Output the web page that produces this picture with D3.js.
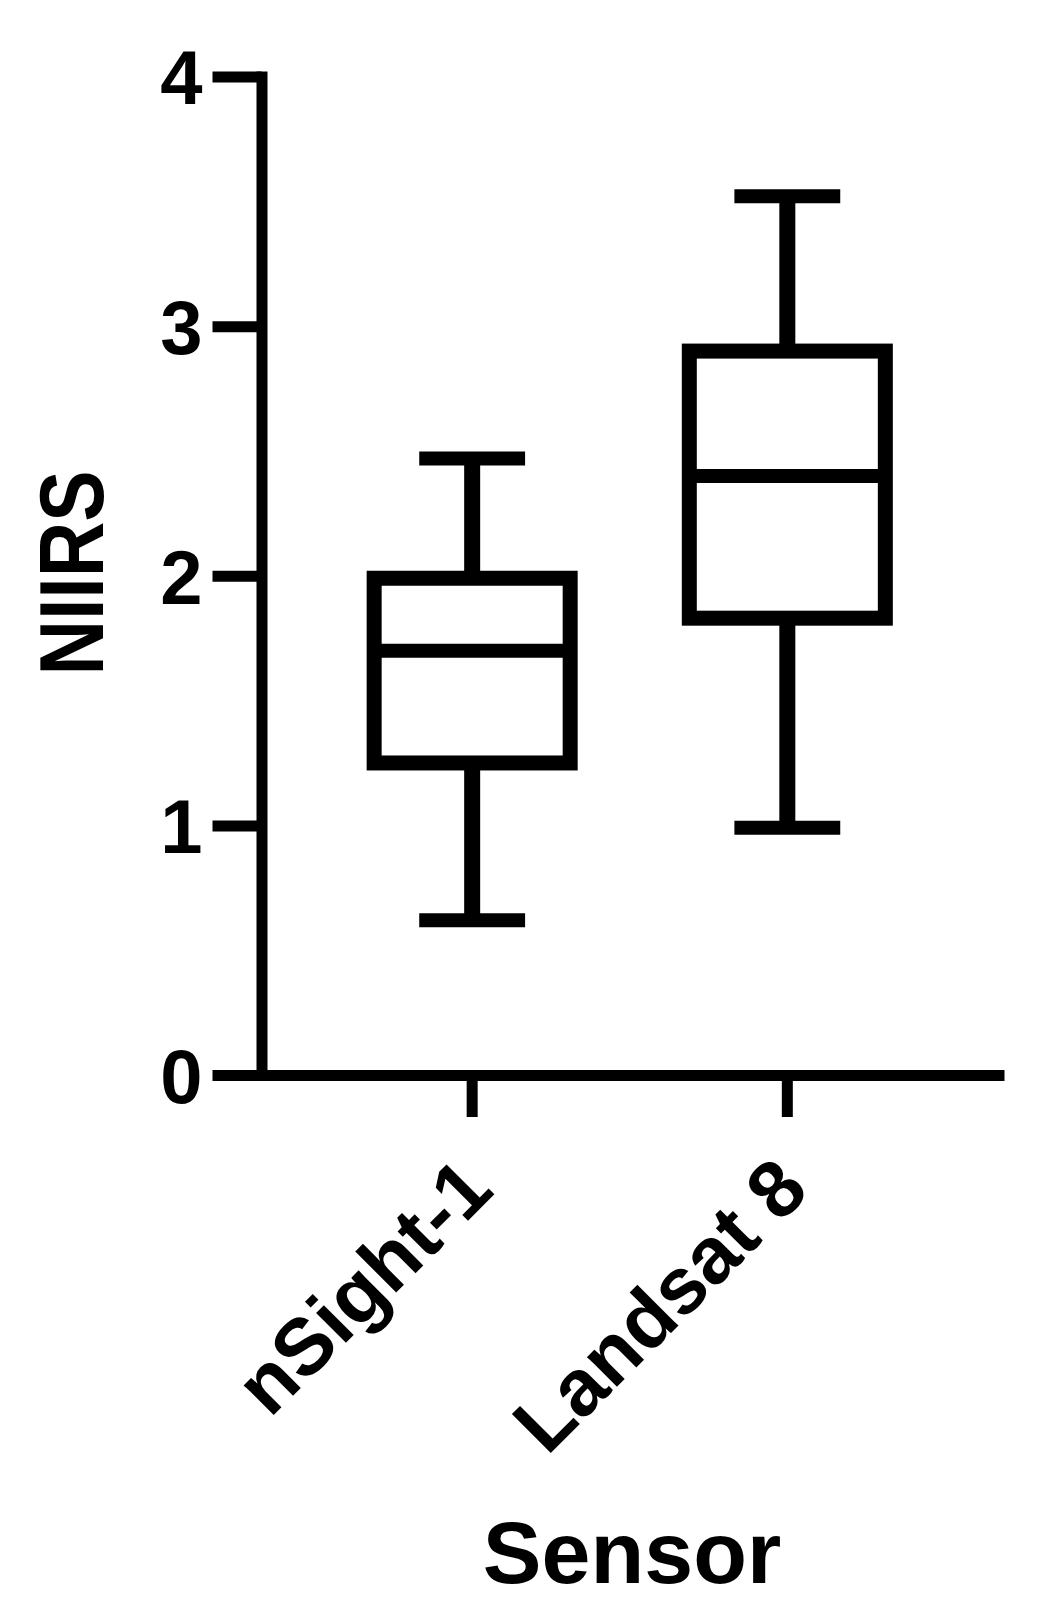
<!DOCTYPE html>
<html>
<head>
<meta charset="utf-8">
<script src="https://cdn.jsdelivr.net/npm/d3@7"></script>
<style>
  body { margin: 0; background: #fff; }
  svg { display: block; }
  text { font-family: "Liberation Sans", Arial, sans-serif; font-weight: bold; fill: #000; }
</style>
</head>
<body>
<svg width="1037" height="1615"></svg>
<script>
var categories = ["nSight-1", "Landsat 8"];
var whiskerLow = [0.62, 0.99];
var q1 = [1.25, 1.83];
var median = [1.7, 2.4];
var q3 = [1.99, 2.9];
var whiskerHigh = [2.47, 3.52];
var yTicks = [0, 1, 2, 3, 4];

var svg = d3.select("svg"),
  width = +svg.attr("width"),
  height = +svg.attr("height");

var boxes = categories.map(function (c, i) {
  return { name: c, lo: whiskerLow[i], q1: q1[i], med: median[i], q3: q3[i], hi: whiskerHigh[i] };
});

var y = d3.scaleLinear().domain([0, 4]).range([1075, 76.5]);

var x = d3
  .scaleBand()
  .domain(categories)
  .range([261.5, 1004])
  .paddingInner(0.378)
  .paddingOuter(0.367)
  .align(0.487);

// y axis
var yAxis = svg
  .append("g")
  .attr("transform", "translate(261.5,0)")
  .call(d3.axisLeft(y).tickValues(yTicks).tickFormat(d3.format("d")).tickSize(49).tickSizeOuter(0).tickPadding(10));

yAxis.select(".domain").attr("stroke", "#000").attr("stroke-width", 11).attr("stroke-linecap", "square");
yAxis.selectAll(".tick line").attr("stroke", "#000").attr("stroke-width", 11);
yAxis.selectAll(".tick text").style("font-size", "76px").attr("dy", "0.36em");

// x axis
var xAxis = svg
  .append("g")
  .attr("transform", "translate(0,1075)")
  .call(d3.axisBottom(x).tickSize(42).tickSizeOuter(0));

xAxis.select(".domain").attr("stroke", "#000").attr("stroke-width", 11);
xAxis.selectAll(".tick line").attr("stroke", "#000").attr("stroke-width", 11);
xAxis
  .selectAll(".tick text")
  .style("font-size", "80px")
  .style("text-anchor", "end")
  .attr("x", 0)
  .attr("y", 0)
  .attr("dy", "0.35em")
  .attr("transform", "translate(4,98) rotate(-45)");

// boxes
var bw = x.bandwidth();
var capHalf = bw * 0.27;

var g = svg
  .selectAll("g.box")
  .data(boxes)
  .enter()
  .append("g")
  .attr("class", "box")
  .attr("transform", function (d) {
    return "translate(" + (x(d.name) + bw / 2) + ",0)";
  });

// whiskers
g.append("line")
  .attr("x1", 0).attr("x2", 0)
  .attr("y1", function (d) { return y(d.hi); })
  .attr("y2", function (d) { return y(d.lo); })
  .attr("stroke", "#000")
  .attr("stroke-width", 16);

g.selectAll("line.cap")
  .data(function (d) { return [d.lo, d.hi]; })
  .enter()
  .append("line")
  .attr("class", "cap")
  .attr("x1", -capHalf).attr("x2", capHalf)
  .attr("y1", function (v) { return y(v); })
  .attr("y2", function (v) { return y(v); })
  .attr("stroke", "#000")
  .attr("stroke-width", 14);

g.append("rect")
  .attr("x", -bw / 2)
  .attr("width", bw)
  .attr("y", function (d) { return y(d.q3); })
  .attr("height", function (d) { return y(d.q1) - y(d.q3); })
  .attr("fill", "#fff")
  .attr("stroke", "#000")
  .attr("stroke-width", 15);

g.append("line")
  .attr("x1", -bw / 2).attr("x2", bw / 2)
  .attr("y1", function (d) { return y(d.med); })
  .attr("y2", function (d) { return y(d.med); })
  .attr("stroke", "#000")
  .attr("stroke-width", 14);

// axis titles
svg.append("text")
  .attr("x", 632)
  .attr("y", 1583)
  .attr("text-anchor", "middle")
  .style("font-size", "88px")
  .text("Sensor");

svg.append("text")
  .attr("transform", "translate(103,573) rotate(-90)")
  .attr("text-anchor", "middle")
  .attr("textLength", 205)
  .attr("lengthAdjust", "spacingAndGlyphs")
  .style("font-size", "90px")
  .text("NIIRS");
</script>
</body>
</html>
